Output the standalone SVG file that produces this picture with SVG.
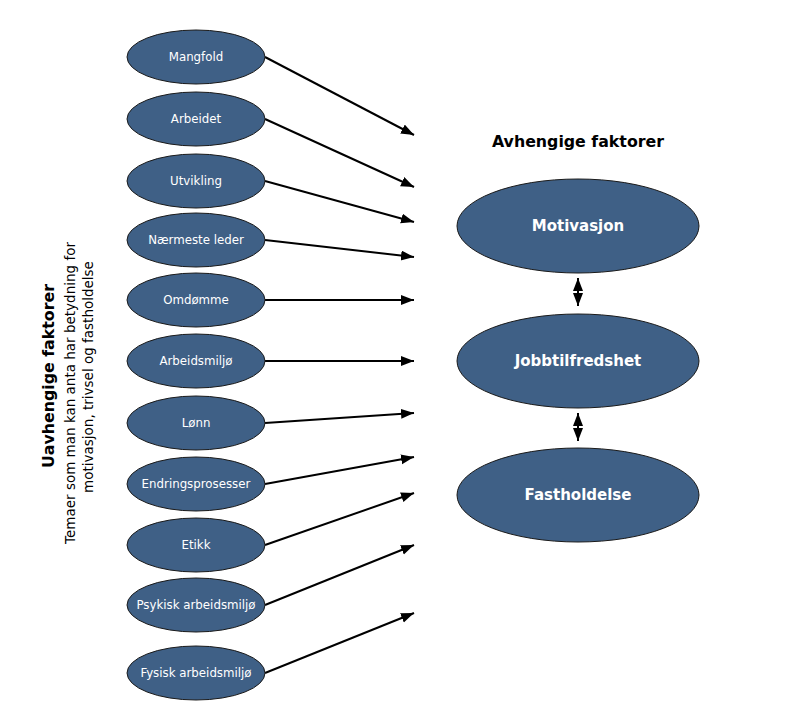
<svg xmlns="http://www.w3.org/2000/svg" width="806" height="721" viewBox="0 0 806 721">
<style>
.n ellipse{fill:#3f6086;stroke:#1a1a1a;stroke-width:1}
.n text{font-family:"DejaVu Sans",Verdana,sans-serif;font-size:11.8px;fill:#fff;text-anchor:middle;dominant-baseline:central}
.big text{font-size:15px;font-weight:bold}
.c line{stroke:#000;stroke-width:2}
.t{font-family:"DejaVu Sans",Verdana,sans-serif;font-size:13.5px;fill:#000;text-anchor:middle}
.h{font-size:15.8px;font-weight:bold}
</style>
<defs>
<marker id="ah" markerUnits="userSpaceOnUse" markerWidth="14" markerHeight="12" refX="13" refY="5" orient="auto">
<path d="M0,0 L13,5 L0,10 Z" fill="#000"/>
</marker>
<marker id="as" markerUnits="userSpaceOnUse" markerWidth="14" markerHeight="12" refX="13" refY="5" orient="auto-start-reverse">
<path d="M0,0 L13,5 L0,10 Z" fill="#000"/>
</marker>
</defs>
<rect width="806" height="721" fill="#fff"/>
<g class="c">
<line x1="265" y1="57" x2="414" y2="135" marker-end="url(#ah)"/>
<line x1="265" y1="119" x2="414" y2="187" marker-end="url(#ah)"/>
<line x1="265" y1="181" x2="414" y2="222" marker-end="url(#ah)"/>
<line x1="265" y1="240" x2="414" y2="257" marker-end="url(#ah)"/>
<line x1="265" y1="300" x2="414" y2="300" marker-end="url(#ah)"/>
<line x1="265" y1="361" x2="414" y2="361" marker-end="url(#ah)"/>
<line x1="265" y1="423" x2="414" y2="413" marker-end="url(#ah)"/>
<line x1="265" y1="484" x2="414" y2="457" marker-end="url(#ah)"/>
<line x1="265" y1="545" x2="414" y2="493" marker-end="url(#ah)"/>
<line x1="265" y1="605" x2="414" y2="545" marker-end="url(#ah)"/>
<line x1="265" y1="673" x2="414" y2="613" marker-end="url(#ah)"/>
<line x1="578" y1="278" x2="578" y2="306" marker-start="url(#as)" marker-end="url(#ah)"/>
<line x1="578" y1="413" x2="578" y2="441" marker-start="url(#as)" marker-end="url(#ah)"/>
</g>
<g id="mangfold" class="n"><ellipse cx="196" cy="57" rx="69" ry="27"/><text x="196" y="57">Mangfold</text></g>
<g id="arbeidet" class="n"><ellipse cx="196" cy="119" rx="69" ry="27"/><text x="196" y="119">Arbeidet</text></g>
<g id="utvikling" class="n"><ellipse cx="196" cy="181" rx="69" ry="27"/><text x="196" y="181">Utvikling</text></g>
<g id="naermeste-leder" class="n"><ellipse cx="196" cy="240" rx="69" ry="27"/><text x="196" y="240">Nærmeste leder</text></g>
<g id="omdomme" class="n"><ellipse cx="196" cy="300" rx="69" ry="27"/><text x="196" y="300">Omdømme</text></g>
<g id="arbeidsmiljo" class="n"><ellipse cx="196" cy="361" rx="69" ry="27"/><text x="196" y="361">Arbeidsmiljø</text></g>
<g id="lonn" class="n"><ellipse cx="196" cy="423" rx="69" ry="27"/><text x="196" y="423">Lønn</text></g>
<g id="endringsprosesser" class="n"><ellipse cx="196" cy="484" rx="69" ry="27"/><text x="196" y="484">Endringsprosesser</text></g>
<g id="etikk" class="n"><ellipse cx="196" cy="545" rx="69" ry="27"/><text x="196" y="545">Etikk</text></g>
<g id="psykisk" class="n"><ellipse cx="196" cy="605" rx="69" ry="27"/><text x="196" y="605">Psykisk arbeidsmiljø</text></g>
<g id="fysisk" class="n"><ellipse cx="196" cy="673" rx="69" ry="27"/><text x="196" y="673">Fysisk arbeidsmiljø</text></g>
<g id="motivasjon" class="n big"><ellipse cx="578" cy="226" rx="121" ry="47"/><text x="578" y="226">Motivasjon</text></g>
<g id="jobbtilfredshet" class="n big"><ellipse cx="578" cy="361" rx="121" ry="47"/><text x="578" y="361">Jobbtilfredshet</text></g>
<g id="fastholdelse" class="n big"><ellipse cx="578" cy="495" rx="121" ry="47"/><text x="578" y="495">Fastholdelse</text></g>
<g id="avhengige">
<text class="t h" x="578" y="147">Avhengige faktorer</text>
</g>
<g id="uavhengige">
<text class="t h" transform="translate(54,376) rotate(-90)">Uavhengige faktorer</text>
<text class="t" transform="translate(75,393) rotate(-90)">Temaer som man kan anta har betydning for</text>
<text class="t" transform="translate(93,377) rotate(-90)">motivasjon, trivsel og fastholdelse</text>
</g>
</svg>
